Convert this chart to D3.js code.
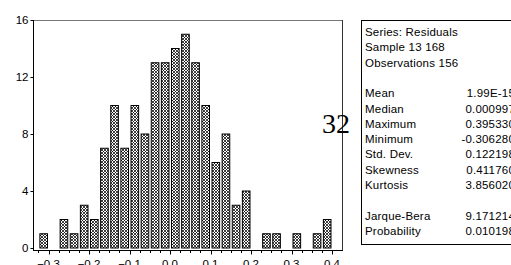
<!DOCTYPE html>
<html>
<head>
<meta charset="utf-8">
<script src="https://d3js.org/d3.v7.min.js"></script>
<style>
  body { margin: 0; background: #fff; }
  svg text { font-family: Arial, "Liberation Sans", sans-serif; }
</style>
</head>
<body>
<script>
// histogram bins: lower edges (step 0.025) and counts
var binStart = -0.325, binWidth = 0.025;
var counts = [1, 0, 2, 1, 3, 2, 7, 10, 7, 10, 8, 13, 13, 14, 15, 13, 10, 6, 8, 3, 4, 0, 1, 1, 0, 1, 0, 1, 2];
var yTicks = [0, 4, 8, 12, 16];
var xTicks = [-0.3, -0.2, -0.1, 0.0, 0.1, 0.2, 0.3, 0.4];
var statLabels = ["Series: Residuals", "Sample 13 168", "Observations 156", "",
  "Mean", "Median", "Maximum", "Minimum", "Std. Dev.", "Skewness", "Kurtosis", "",
  "Jarque-Bera", "Probability"];
var statValues = ["", "", "", "",
  "1.99E-15", "0.000997", "0.395330", "-0.306280", "0.122198", "0.411760", "3.856020", "",
  "9.171214", "0.010198"];

var W = 511, H = 265;
var plot = {left: 33, right: 342, top: 20, axis: 250};

var svg = d3.select("body").append("svg")
    .attr("width", W)
    .attr("height", H);

var defs = svg.append("defs");
var pat = defs.append("pattern")
    .attr("id", "hatch")
    .attr("patternUnits", "userSpaceOnUse")
    .attr("width", 3)
    .attr("height", 3);
pat.append("rect").attr("width", 3).attr("height", 3).attr("fill", "#fff");
pat.append("path")
    .attr("d", "M0,0L3,3M3,0L0,3")
    .attr("stroke", "#000")
    .attr("stroke-width", 0.75);

var x = d3.scaleLinear().domain([-0.3, 0.4]).range([48.5, 332]);
var y = d3.scaleLinear().domain([0, 16]).range([248, plot.top]);

var bins = counts.map(function(c, i) {
    return {x0: binStart + i * binWidth, x1: binStart + (i + 1) * binWidth, n: c};
});

// bars
svg.append("g").selectAll("rect")
    .data(bins.filter(function(d) { return d.n > 0; }))
    .enter().append("rect")
    .attr("x", function(d) { return x(d.x0) + 1.5; })
    .attr("width", function(d) { return x(d.x1) - x(d.x0) - 2.5; })
    .attr("y", function(d) { return y(d.n); })
    .attr("height", function(d) { return y(0) - y(d.n); })
    .attr("fill", "url(#hatch)")
    .attr("stroke", "#000")
    .attr("stroke-width", 1);

// frame
svg.append("line")
    .attr("x1", plot.left).attr("x2", plot.right)
    .attr("y1", plot.top + 0.5).attr("y2", plot.top + 0.5)
    .attr("stroke", "#777");
svg.append("line")
    .attr("x1", plot.right + 0.5).attr("x2", plot.right + 0.5)
    .attr("y1", plot.top).attr("y2", plot.axis)
    .attr("stroke", "#333");

// left axis
var yAxis = svg.append("g")
    .attr("transform", "translate(" + (plot.left + 0.5) + ",0)");
yAxis.append("line")
    .attr("y1", plot.top).attr("y2", plot.axis + 0.5)
    .attr("stroke", "#000");
yAxis.selectAll(".tk").data(yTicks).enter().append("line")
    .attr("x1", -3).attr("x2", 0)
    .attr("y1", function(d) { return Math.round(y(d)) + 0.5; })
    .attr("y2", function(d) { return Math.round(y(d)) + 0.5; })
    .attr("stroke", "#000");
yAxis.selectAll("text").data(yTicks).enter().append("text")
    .attr("x", -5)
    .attr("y", function(d) { return y(d); })
    .attr("dy", "0.36em")
    .attr("text-anchor", "end")
    .style("font-size", "11.5px")
    .text(function(d) { return d; });

// bottom axis
var xAxis = svg.append("g")
    .attr("transform", "translate(0," + (plot.axis + 0.5) + ")");
xAxis.append("line")
    .attr("x1", plot.left).attr("x2", plot.right + 1)
    .attr("stroke", "#000");
var minor = d3.range(0, counts.length + 1).map(function(i) { return binStart + i * binWidth; });
xAxis.selectAll(".mn").data(minor).enter().append("line")
    .attr("x1", function(d) { return Math.round(x(d)) + 0.5; })
    .attr("x2", function(d) { return Math.round(x(d)) + 0.5; })
    .attr("y1", 0).attr("y2", 2.5)
    .attr("stroke", "#000");
xAxis.selectAll(".mj").data(xTicks).enter().append("line")
    .attr("x1", function(d) { return Math.round(x(d)) + 0.5; })
    .attr("x2", function(d) { return Math.round(x(d)) + 0.5; })
    .attr("y1", 0).attr("y2", 4)
    .attr("stroke", "#000");
xAxis.selectAll("text").data(xTicks).enter().append("text")
    .attr("x", function(d) { return x(d); })
    .attr("y", 17.5)
    .attr("text-anchor", "middle")
    .style("font-size", "11.5px")
    .text(function(d) { return d3.format(".1f")(d); });

// stray label
svg.append("text")
    .attr("x", 322)
    .attr("y", 133)
    .style("font-family", "'Liberation Serif', 'Times New Roman', serif")
    .style("font-size", "28px")
    .text("32");

// statistics box
var box = {left: 361, top: 20, bottom: 244, lineH: 15.3, first: 36};
svg.append("rect")
    .attr("x", box.left + 0.5).attr("y", box.top + 0.5)
    .attr("width", 200).attr("height", box.bottom - box.top)
    .attr("fill", "#fff")
    .attr("stroke", "#000");
var st = svg.append("g").style("font-size", "11.5px").style("letter-spacing", "0.2px");
st.selectAll(".lb").data(statLabels).enter().append("text")
    .attr("x", box.left + 4)
    .attr("y", function(d, i) { return box.first + i * box.lineH; })
    .text(function(d) { return d; });
st.selectAll(".vl").data(statValues).enter().append("text")
    .attr("x", 515)
    .attr("y", function(d, i) { return box.first + i * box.lineH; })
    .attr("text-anchor", "end")
    .text(function(d) { return d; });
</script>
</body>
</html>
